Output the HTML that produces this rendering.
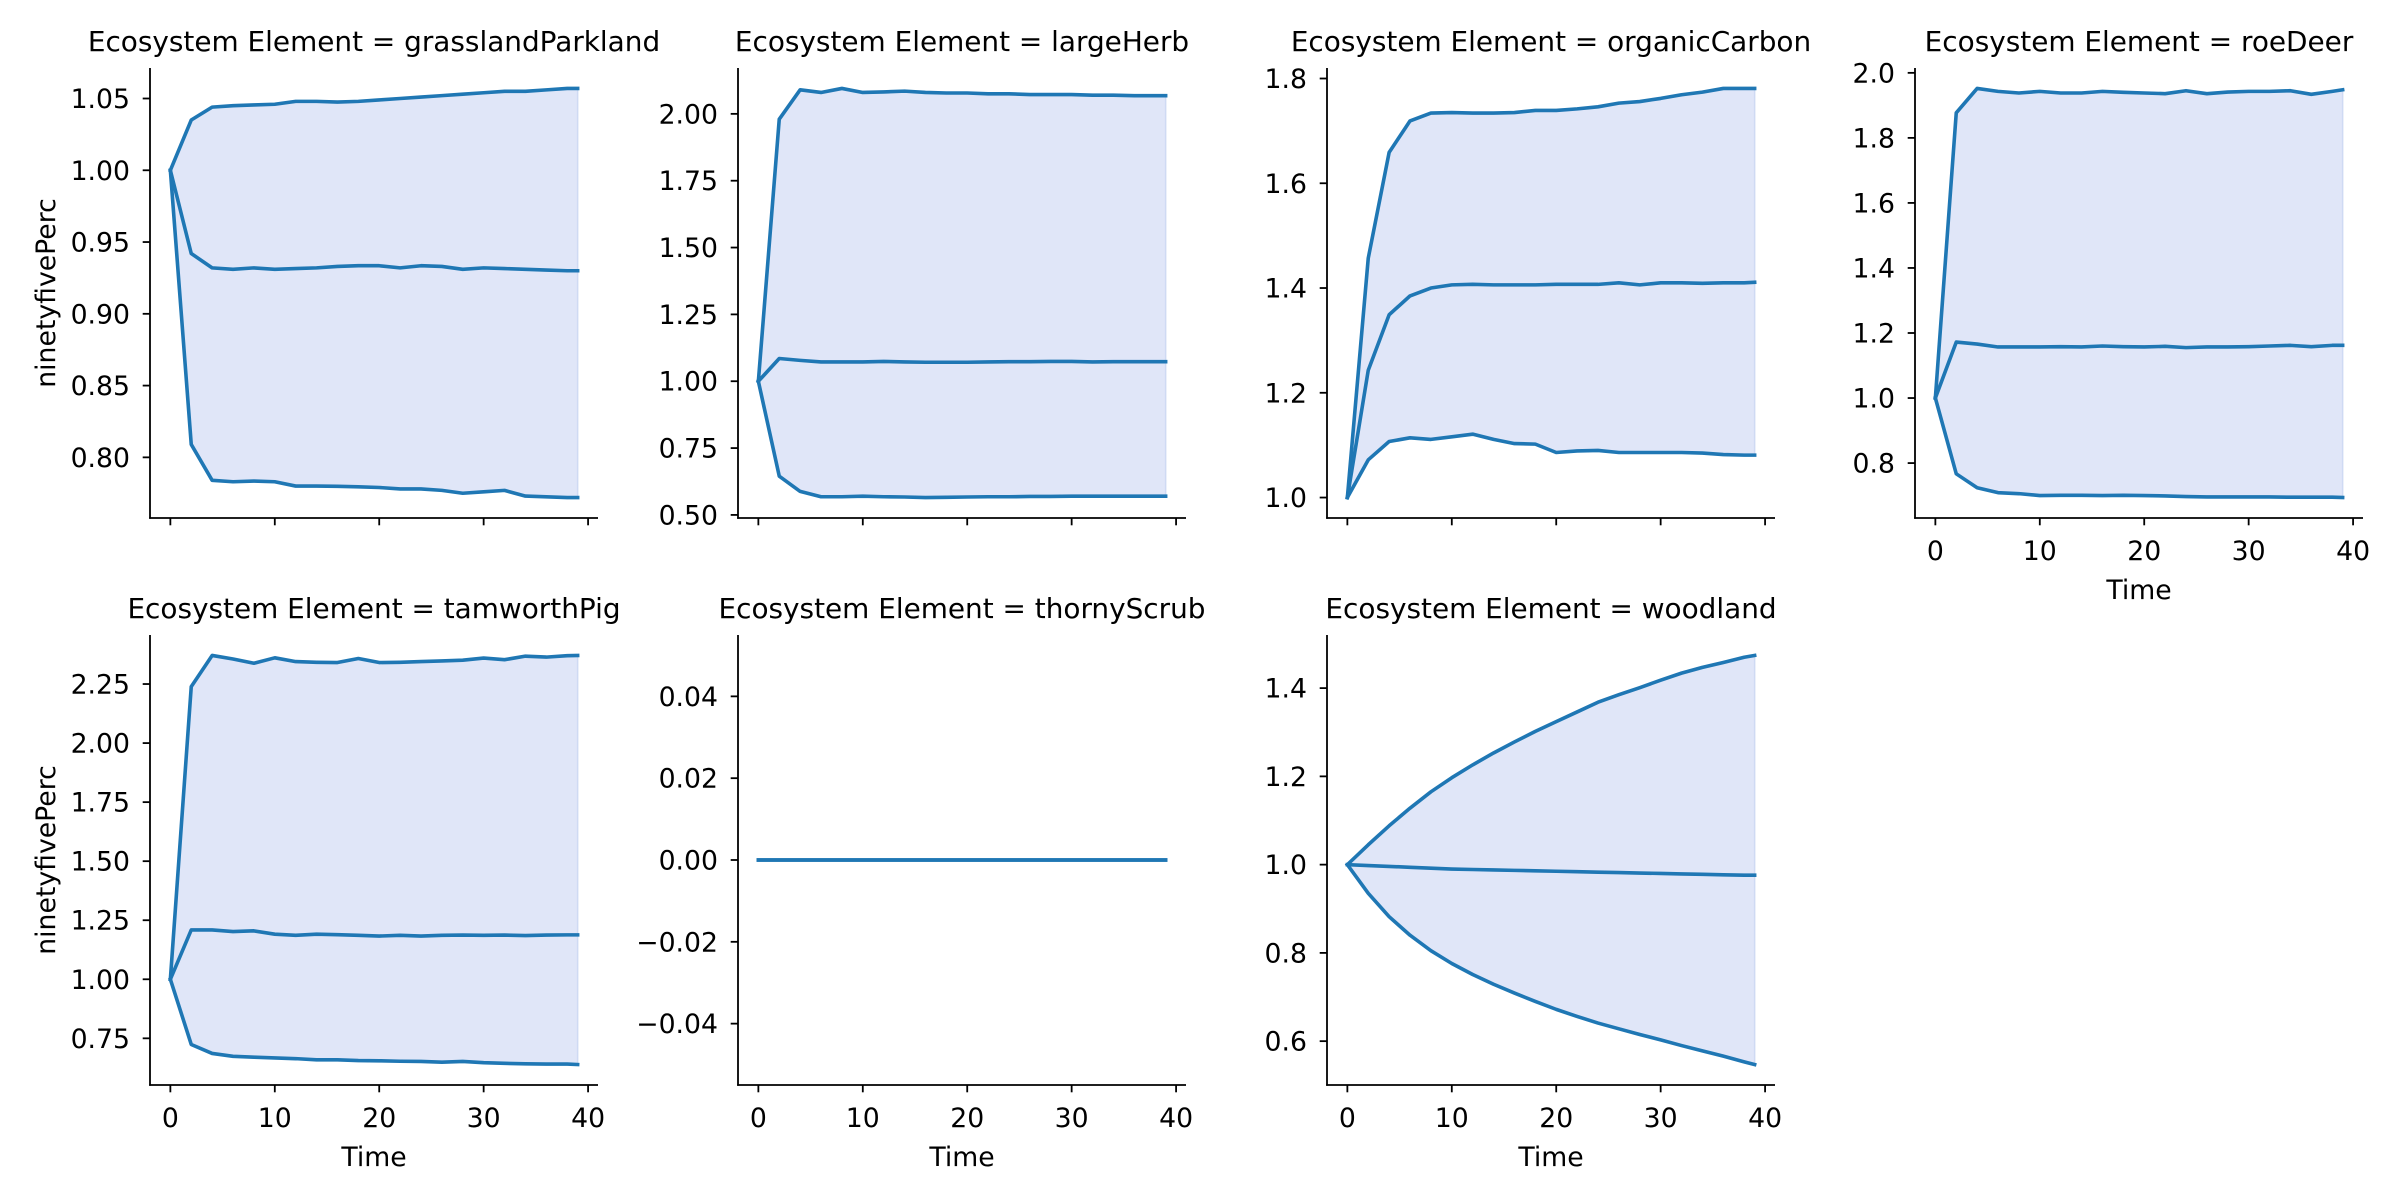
<!DOCTYPE html>
<html><head><meta charset="utf-8">
<style>
html,body{margin:0;padding:0;background:#fff;}
svg{display:block;}
text{font-family:"DejaVu Sans","Liberation Sans",sans-serif;fill:#000;}
</style></head>
<body>
<svg id="chart" width="2400" height="1200" viewBox="0 0 2400 1200" xmlns="http://www.w3.org/2000/svg"></svg>
<script>
const times = [0,2,4,6,8,10,12,14,16,18,20,22,24,26,28,30,32,34,36,38,39];
const panelNames = ["grasslandParkland","largeHerb","organicCarbon","roeDeer","tamworthPig","thornyScrub","woodland"];
const grassUpper = [1,1.035,1.044,1.045,1.0455,1.046,1.048,1.048,1.0475,1.048,1.049,1.050,1.051,1.052,1.053,1.054,1.055,1.055,1.056,1.057,1.057];
const grassMid = [1,0.942,0.932,0.931,0.932,0.931,0.9315,0.932,0.933,0.9335,0.9335,0.932,0.9335,0.933,0.931,0.932,0.9315,0.931,0.9305,0.930,0.930];
const grassLower = [1,0.809,0.784,0.783,0.7835,0.783,0.780,0.780,0.7798,0.7795,0.779,0.778,0.778,0.777,0.775,0.776,0.777,0.773,0.7725,0.772,0.772];
const herbUpper = [1,1.98,2.09,2.08,2.095,2.08,2.082,2.085,2.08,2.078,2.078,2.075,2.075,2.072,2.072,2.072,2.07,2.07,2.068,2.068,2.068];
const herbMid = [1,1.085,1.078,1.072,1.072,1.072,1.074,1.072,1.071,1.071,1.071,1.072,1.073,1.073,1.074,1.074,1.072,1.073,1.073,1.073,1.073];
const herbLower = [1,0.645,0.588,0.568,0.568,0.57,0.568,0.567,0.565,0.566,0.567,0.568,0.568,0.569,0.569,0.57,0.57,0.57,0.57,0.57,0.57];
const carbonUpper = [1,1.457,1.659,1.719,1.734,1.735,1.734,1.734,1.735,1.739,1.739,1.742,1.746,1.753,1.756,1.762,1.769,1.774,1.781,1.781,1.781];
const carbonMid = [1,1.243,1.349,1.385,1.4,1.406,1.407,1.406,1.406,1.406,1.407,1.407,1.407,1.41,1.406,1.41,1.41,1.409,1.41,1.41,1.411];
const carbonLower = [1,1.072,1.107,1.114,1.111,1.116,1.121,1.111,1.103,1.102,1.086,1.089,1.09,1.086,1.086,1.086,1.086,1.085,1.082,1.081,1.081];
const deerUpper = [1,1.877,1.952,1.943,1.938,1.943,1.938,1.938,1.943,1.94,1.938,1.936,1.945,1.936,1.941,1.943,1.943,1.945,1.934,1.943,1.948];
const deerMid = [1,1.172,1.166,1.157,1.157,1.157,1.158,1.157,1.160,1.158,1.157,1.159,1.155,1.157,1.157,1.158,1.160,1.162,1.158,1.162,1.162];
const deerLower = [1,0.767,0.724,0.709,0.706,0.700,0.701,0.701,0.700,0.701,0.700,0.699,0.697,0.696,0.696,0.696,0.696,0.695,0.695,0.695,0.694];
const pigUpper = [1,2.239,2.371,2.356,2.338,2.361,2.345,2.342,2.341,2.358,2.341,2.342,2.345,2.348,2.351,2.36,2.353,2.368,2.364,2.37,2.371];
const pigMid = [1,1.209,1.209,1.202,1.205,1.191,1.186,1.191,1.189,1.186,1.183,1.186,1.183,1.186,1.187,1.186,1.187,1.185,1.187,1.188,1.188];
const pigLower = [1,0.724,0.686,0.674,0.670,0.667,0.664,0.659,0.659,0.656,0.655,0.653,0.652,0.649,0.652,0.647,0.644,0.642,0.641,0.641,0.639];
const scrubUpper = [0,0,0,0,0,0,0,0,0,0,0,0,0,0,0,0,0,0,0,0,0];
const scrubMid = [0,0,0,0,0,0,0,0,0,0,0,0,0,0,0,0,0,0,0,0,0];
const scrubLower = [0,0,0,0,0,0,0,0,0,0,0,0,0,0,0,0,0,0,0,0,0];
const woodUpper = [1,1.045,1.088,1.128,1.165,1.197,1.226,1.253,1.278,1.302,1.324,1.346,1.368,1.385,1.401,1.418,1.434,1.447,1.458,1.470,1.474];
const woodMid = [1,0.998,0.996,0.994,0.992,0.990,0.989,0.988,0.987,0.986,0.985,0.984,0.983,0.982,0.981,0.980,0.979,0.978,0.977,0.976,0.976];
const woodLower = [1,0.935,0.882,0.840,0.805,0.776,0.751,0.729,0.709,0.690,0.672,0.656,0.641,0.628,0.615,0.603,0.590,0.578,0.566,0.553,0.547];
const xTicks = [0,10,20,30,40];
const yTicksGrass = [0.80,0.85,0.90,0.95,1.00,1.05];
const yTicksHerb = [0.50,0.75,1.00,1.25,1.50,1.75,2.00];
const yTicksCarbon = [1.0,1.2,1.4,1.6,1.8];
const yTicksDeer = [0.8,1.0,1.2,1.4,1.6,1.8,2.0];
const yTicksPig = [0.75,1.00,1.25,1.50,1.75,2.00,2.25];
const yTicksScrub = [-0.04,-0.02,0.00,0.02,0.04];
const yTicksWood = [0.6,0.8,1.0,1.2,1.4];

const NS = "http://www.w3.org/2000/svg";
const svg = document.getElementById('chart');
function mk(tag, attrs, parent){
  const e = document.createElementNS(NS, tag);
  for (const k in attrs) e.setAttribute(k, attrs[k]);
  (parent||svg).appendChild(e);
  return e;
}
const panels = [
  {u:grassUpper,m:grassMid,l:grassLower,t:yTicksGrass,d:2,c:0,r:0},
  {u:herbUpper,m:herbMid,l:herbLower,t:yTicksHerb,d:2,c:1,r:0},
  {u:carbonUpper,m:carbonMid,l:carbonLower,t:yTicksCarbon,d:1,c:2,r:0},
  {u:deerUpper,m:deerMid,l:deerLower,t:yTicksDeer,d:1,c:3,r:0},
  {u:pigUpper,m:pigMid,l:pigLower,t:yTicksPig,d:2,c:0,r:1},
  {u:scrubUpper,m:scrubMid,l:scrubLower,t:yTicksScrub,d:2,c:1,r:1},
  {u:woodUpper,m:woodMid,l:woodLower,t:yTicksWood,d:1,c:2,r:1}
];
const colLeft = [150,738,1327,1915];
const rowTop = [68,635];
const W = 448, H = 450;
const FS = 26.7;
const TFS = 27.9;
panels.forEach((p, i) => {
  const left = colLeft[p.c], top = rowTop[p.r], bottom = top + H, right = left + W;
  const g = mk('g', {});
  
  
  const tmin = Math.min(...times), tmax = Math.max(...times);
  const xm = (tmax - tmin) * 0.05;
  const x0 = tmin - xm, x1 = tmax + xm;
  const allv = p.u.concat(p.m, p.l);
  let vmin = Math.min(...allv), vmax = Math.max(...allv);
  let y0, y1;
  if (vmax - vmin < 1e-9) { y0 = vmin - 0.055; y1 = vmax + 0.055; }
  else { const ym = (vmax - vmin) * 0.05; y0 = vmin - ym; y1 = vmax + ym; }
  const X = t => left + (t - x0) / (x1 - x0) * W;
  const Y = v => bottom - (v - y0) / (y1 - y0) * H;
  let d = p.u.map((v, k) => (k ? 'L' : 'M') + X(times[k]).toFixed(2) + ',' + Y(v).toFixed(2)).join('');
  for (let k = p.l.length - 1; k >= 0; k--) d += 'L' + X(times[k]).toFixed(2) + ',' + Y(p.l[k]).toFixed(2);
  d += 'Z';
  const band = mk('path', {d: d, fill: '#e0e6f8', stroke: '#cfdaf3', 'stroke-width': 1.5}, g);
  
  
  [['upper', p.u], ['median', p.m], ['lower', p.l]].forEach(([nm, arr]) => {
    const ld = arr.map((v, k) => (k ? 'L' : 'M') + X(times[k]).toFixed(2) + ',' + Y(v).toFixed(2)).join('');
    const ln = mk('path', {d: ld, fill: 'none', stroke: '#1f77b4', 'stroke-width': 3.6, 'stroke-linejoin': 'round', 'stroke-linecap': 'square'}, g);
    
    
  });
  const sl = mk('line', {x1: left, y1: top, x2: left, y2: bottom + 0.8, stroke: '#000', 'stroke-width': 1.8}, g);
  
  
  const sb = mk('line', {x1: left - 0.8, y1: bottom, x2: right, y2: bottom, stroke: '#000', 'stroke-width': 1.8}, g);
  
  
  p.t.forEach(v => {
    const yy = Y(v);
    mk('line', {x1: left - 7.3, y1: yy, x2: left, y2: yy, stroke: '#000', 'stroke-width': 1.8}, g);
    const tx = mk('text', {x: left - 20, y: yy + 9.5, 'text-anchor': 'end', 'font-size': FS}, g);
    tx.textContent = (Math.abs(v) < 1e-12 ? 0 : v).toFixed(p.d).replace('-', '\u2212');
    
    
  });
  const showX = (p.r === 1 || p.c === 3);
  xTicks.forEach(t => {
    const xx = X(t);
    mk('line', {x1: xx, y1: bottom, x2: xx, y2: bottom + 7.3, stroke: '#000', 'stroke-width': 1.8}, g);
    if (showX) {
      const tx = mk('text', {x: xx, y: bottom + 42, 'text-anchor': 'middle', 'font-size': FS}, g);
      tx.textContent = t;
      
      
    }
  });
  if (showX) {
    const xl = mk('text', {x: left + W / 2, y: bottom + 81, 'text-anchor': 'middle', 'font-size': FS}, g);
    xl.textContent = 'Time';
    
    
  }
  if (p.c === 0) {
    const cy = top + H / 2;
    const yl = mk('text', {x: 0, y: 0, 'text-anchor': 'middle', 'font-size': FS, transform: 'translate(55,' + cy + ') rotate(-90)'}, g);
    yl.textContent = 'ninetyfivePerc';
    
    
  }
  const tt = mk('text', {x: left + W / 2, y: top - 17, 'text-anchor': 'middle', 'font-size': TFS}, g);
  tt.textContent = 'Ecosystem Element = ' + panelNames[i];
  
  
});
</script>
</body></html>
